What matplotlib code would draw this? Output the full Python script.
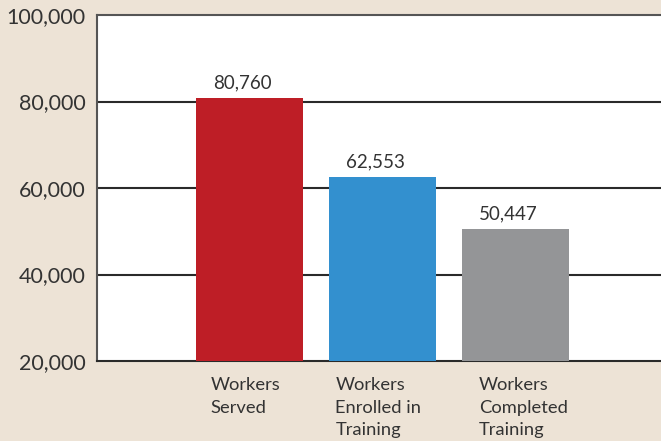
import matplotlib
matplotlib.use("Agg")
import matplotlib.pyplot as plt

categories = ["Workers\nServed", "Workers\nEnrolled in\nTraining", "Workers\nCompleted\nTraining"]
values = [80760, 62553, 50447]
value_labels = ["80,760", "62,553", "50,447"]
colors = ["#be1e26", "#3390cf", "#949597"]
yticks = [20000, 40000, 60000, 80000, 100000]
ytick_labels = ["20,000", "40,000", "60,000", "80,000", "100,000"]

plt.rcParams['font.family'] = ['Lato', 'DejaVu Sans']
bg = "#ede3d6"
txt = "#333333"

fig = plt.figure(figsize=(6.61, 4.41), dpi=100, facecolor=bg)
ax = fig.add_axes([97/661, 1-361/441, 564/661, (361-15)/441])
ax.set_facecolor("white")

x = list(range(len(values)))
ax.bar(x, values, width=0.805, color=colors, zorder=3)
ax.set_xlim(-1.147, 3.094)
ax.set_ylim(20000, 100000)

for yt in yticks[1:-1]:
    ax.axhline(yt, color="#2a2a2a", lw=1.5, zorder=2)

ax.set_yticks(yticks)
ax.set_yticklabels(ytick_labels, fontsize=15.5, color=txt)
ax.tick_params(axis='y', length=0, pad=8)
ax.set_xticks([])

ax.spines["right"].set_visible(False)
ax.spines["top"].set_color("#555555")
ax.spines["top"].set_linewidth(1.5)
ax.spines["left"].set_color("#555555")
ax.spines["left"].set_linewidth(1.5)
ax.spines["bottom"].set_color("#2a2a2a")
ax.spines["bottom"].set_linewidth(1.5)

for xi, v, lab in zip(x, values, value_labels):
    ax.annotate(lab, (xi, v), xytext=(-5, 5), textcoords="offset points",
                ha="center", va="bottom", fontsize=13.5, color=txt)

offsets = [-0.295, -0.355, -0.275]
for xi, cat, off in zip(x, categories, offsets):
    ax.annotate(cat, (xi + off, 20000), xytext=(0, -11.5), textcoords="offset points",
                ha="left", va="top", fontsize=13.2, color=txt, linespacing=1.52,
                annotation_clip=False)

fig.savefig("out.png", dpi=100, facecolor=bg)
